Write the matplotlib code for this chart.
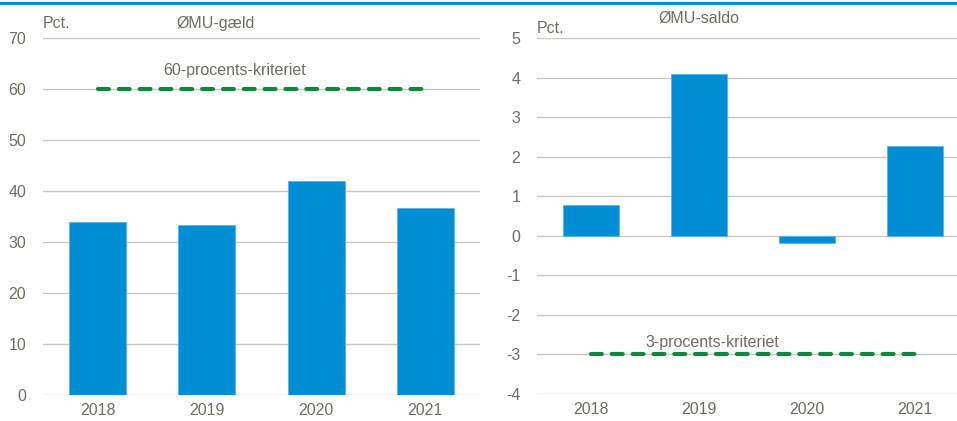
import matplotlib.pyplot as plt
from matplotlib.lines import Line2D

years = ['2018', '2019', '2020', '2021']
debt = [33.9, 33.4, 42.0, 36.6]
balance = [0.78, 4.08, -0.18, 2.28]
debt_limit = 60
deficit_limit = -3

plt.rcParams['font.family'] = ['Liberation Sans Narrow', 'Liberation Sans', 'DejaVu Sans']
plt.rcParams['axes.unicode_minus'] = False

bar_col = '#008fd5'
grid_col = '#c8c8c0'
txt_col = '#6e6e64'
green = '#0a8a3c'

W, H = 957, 421
fig = plt.figure(figsize=(W / 100, H / 100), dpi=100)

# blue rule at the top
fig.add_artist(Line2D([0, 1], [1 - 3 / H, 1 - 3 / H], color='#0090d0', lw=2.2))


def style(ax, yticks):
    ax.set_yticks(yticks)
    ax.grid(axis='y', color=grid_col, lw=1)
    ax.set_axisbelow(True)
    for s in ax.spines.values():
        s.set_visible(False)
    ax.tick_params(length=0, colors=txt_col, labelsize=11.5)
    ax.tick_params(axis='x', pad=6)
    ax.tick_params(axis='y', pad=12)


x = range(len(years))
dash = dict(color=green, lw=3, ls=(0, (2.6, 2.4)), dash_capstyle='round', zorder=3)

# left panel: debt
ax1 = fig.add_axes([43 / W, (H - 395) / H, 437 / W, 357 / H])
ax1.bar(x, debt, width=0.52, color=bar_col, edgecolor='#5ab4e6', lw=0.6, zorder=2)
ax1.plot([0, 3], [debt_limit] * 2, **dash)
ax1.text(1.25, debt_limit + 2.2, '60-procents-kriteriet', color=txt_col, fontsize=11.5,
         ha='center', va='bottom')
ax1.set_xlim(-0.5, 3.5)
ax1.set_ylim(0, 70)
ax1.set_xticks(list(x), years)
style(ax1, range(0, 71, 10))
ax1.text(0.0, 1.02, 'Pct.', transform=ax1.transAxes, color=txt_col, fontsize=11.5, va='bottom')
ax1.text(0.395, 1.02, 'ØMU-gæld', transform=ax1.transAxes, color=txt_col, fontsize=11.5,
         ha='center', va='bottom')

# right panel: balance
ax2 = fig.add_axes([537 / W, (H - 394) / H, 420 / W, 356 / H])
ax2.bar(x, balance, width=0.52, color=bar_col, edgecolor='#5ab4e6', lw=0.6, zorder=2)
ax2.plot([0, 3], [deficit_limit] * 2, **dash)
ax2.text(1.12, deficit_limit + 0.12, '3-procents-kriteriet', color=txt_col, fontsize=11.5,
         ha='center', va='bottom')
ax2.set_xlim(-0.5, 3.39)
ax2.set_ylim(-4, 5)
ax2.set_xticks(list(x), years)
style(ax2, range(-4, 6))
ax2.text(0.0, 1.005, 'Pct.', transform=ax2.transAxes, color=txt_col, fontsize=11.5, va='bottom')
ax2.text(0.385, 1.035, 'ØMU-saldo', transform=ax2.transAxes, color=txt_col, fontsize=11.5,
         ha='center', va='bottom')

fig.savefig('out.png', dpi=100)
